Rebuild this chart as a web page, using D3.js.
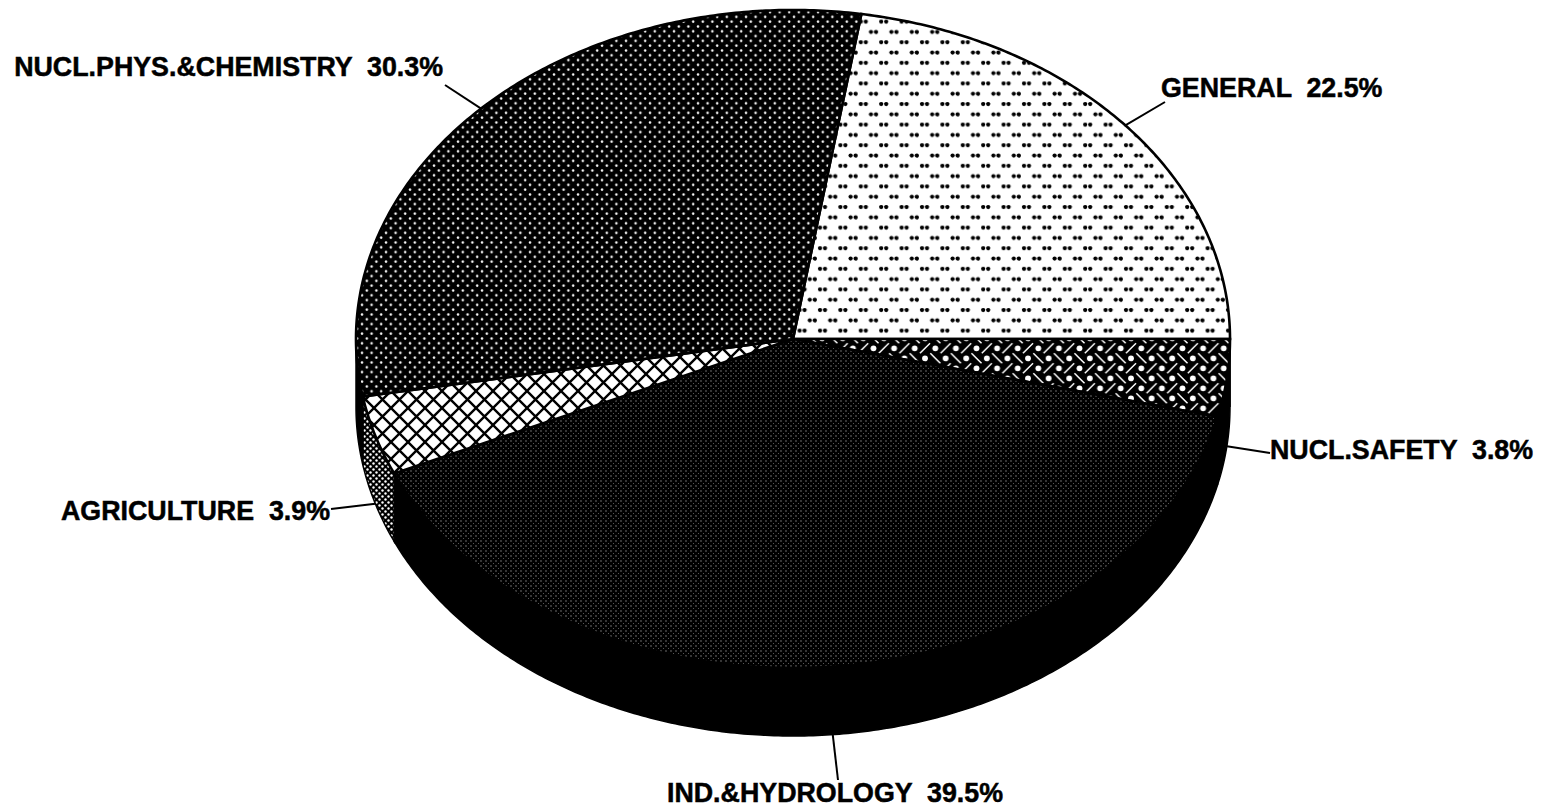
<!DOCTYPE html>
<html><head><meta charset="utf-8">
<script src="https://cdn.jsdelivr.net/npm/d3@7/dist/d3.min.js"></script>
<style>html,body{margin:0;background:#fff}svg{display:block}text{font-family:"Liberation Sans",Arial,sans-serif;font-weight:700;font-size:26.8px;fill:#000;white-space:pre;stroke:#000;stroke-width:.5px}</style>
</head><body><svg id="c" width="1542" height="807"></svg>
<script>
const categories=["GENERAL","NUCL.SAFETY","IND.&HYDROLOGY","AGRICULTURE","NUCL.PHYS.&CHEMISTRY"];
const shares=[22.5,3.8,39.5,3.9,30.3];
const topFills=["url(#pGeneral)","url(#pSafety)","url(#pInd)","url(#pAgri)","url(#pPhys)"];
const sideFills=["#000","#000","#000","url(#pAgriSide)","#000"];
const leaderEnd=[[1165,102],[1270,453],[838,780],[331,509],[445,85]];
const labelAlign=["start","start","middle","end","end"];
const labelAt=[[1161,97],[1270,459],[835,802],[330,520],[443,76]];
const W=1542,H=807,cx=793,cy=339,rx=437,ry=329,depth=68,tau=Math.PI*2;
const sx=d3.scaleLinear().domain([-1,1]).range([cx-rx,cx+rx]);
const sy=d3.scaleLinear().domain([-1,1]).range([cy-ry,cy+ry]);
const pie=d3.pie().sort(null).value(d=>d).startAngle(9/360*tau).endAngle(9/360*tau+tau);
const arcs=pie(shares);
const P=(a,dz=0)=>[sx(Math.sin(a)),sy(-Math.cos(a))+dz];
const samples=(a0,a1)=>{const n=Math.max(2,Math.ceil((a1-a0)/0.01));return d3.range(n+1).map(i=>a0+(a1-a0)*i/n)};
const line=d3.line();
const svg=d3.select("#c");
const defs=svg.append("defs");
function pat(id,w,h,bg,draw){const p=defs.append("pattern").attr("id",id).attr("patternUnits","userSpaceOnUse").attr("width",w).attr("height",h);
 p.append("rect").attr("width",w).attr("height",h).attr("fill",bg);
 for(const ox of[-w,0,w])for(const oy of[-h,0,h]){draw(p.append("g").attr("transform",`translate(${ox},${oy})`));}}
const dot=(p,x,y,r,f,o=1)=>p.append("circle").attr("cx",x).attr("cy",y).attr("r",r).attr("fill",f).attr("opacity",o);
pat("pGeneral",20.4,20.6,"#fff",p=>{for(const[x,y]of[[4,1.1],[9,1.1],[14.2,11.4],[19.2,11.4]])dot(p,x,y,2.1,"#000")});
pat("pPhys",9.6,9.6,"#000",p=>{dot(p,2,2.5,1.25,"#fff");dot(p,6.8,7.3,1.25,"#fff")});
pat("pAgriSide",6,6,"#000",p=>{dot(p,1.5,1.5,1.2,"#fff");dot(p,4.5,4.5,1.2,"#fff")});
pat("pAgri",17,17,"#fff",p=>{p.append("path").attr("d","M0 0L17 17M17 0L0 17").attr("stroke","#000").attr("stroke-width",2.4).attr("fill","none")});
pat("pSafety",20.6,20,"#000",p=>{
 dot(p,8.3,8.3,2.9,"#fff");dot(p,18.6,18.3,2.9,"#fff");
 p.append("path").attr("d","M13.6 13.3L23.6 3.3M3.3 13.3L13.3 23.3").attr("stroke","#fff").attr("stroke-width",1.5).attr("fill","none");});
pat("pInd",5,5,"#000",p=>{dot(p,1,1,.65,"#fff",.6);dot(p,3.5,3.5,.55,"#fff",.4)});
const g=svg.append("g");
arcs.forEach((d,i)=>{
 const a0=Math.max(d.startAngle,tau/4),a1=Math.min(d.endAngle,tau*3/4);
 if(a1<=a0)return;
 const ang=samples(a0,a1);
 const pts=ang.map(a=>P(a)).concat(ang.slice().reverse().map(a=>P(a,depth)));
 g.append("path").attr("d",line(pts)+"Z").attr("fill",sideFills[i]).attr("stroke","#000").attr("stroke-width",1.5);
});
arcs.forEach((d,i)=>{
 const pts=[[cx,cy]].concat(samples(d.startAngle,d.endAngle).map(a=>P(a)));
 g.append("path").attr("d",line(pts)+"Z").attr("fill",topFills[i]).attr("stroke","#000").attr("stroke-width",2.6);
});
arcs.forEach((d,i)=>{
 const mid=(d.startAngle+d.endAngle)/2;
 const s=P(mid,Math.cos(mid)<0.2?depth:0);
 g.append("path").attr("d",line([s,leaderEnd[i]])).attr("stroke","#000").attr("stroke-width",2).attr("fill","none");
 g.append("text").attr("x",labelAt[i][0]).attr("y",labelAt[i][1]).attr("text-anchor",labelAlign[i]).text(categories[i]+"  "+shares[i].toFixed(1)+"%");
});
</script></body></html>
